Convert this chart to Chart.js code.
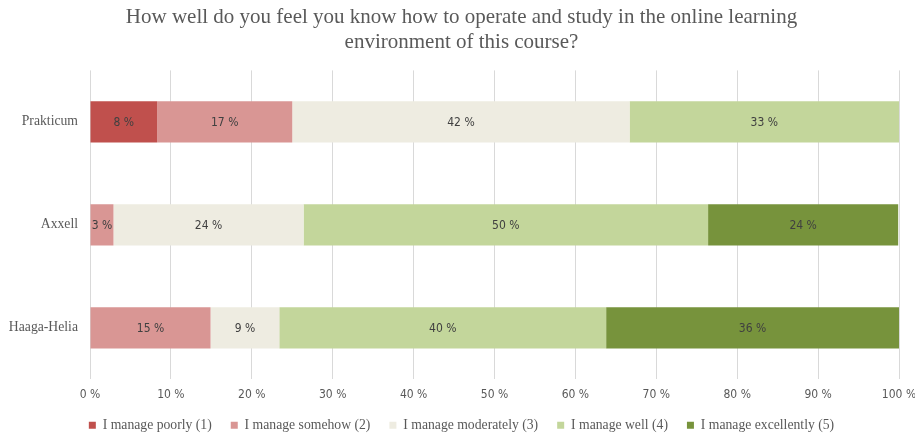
<!DOCTYPE html>
<html>
<head>
<meta charset="utf-8">
<script src="https://cdn.jsdelivr.net/npm/chart.js@4"></script>
<style>
  html, body { margin: 0; padding: 0; background: #fff; }
  #wrap { width: 915px; height: 434px; }
</style>
</head>
<body>
<div id="wrap"><canvas id="grafico"></canvas></div>
<script>
// categorias y valores (%)
const schools = ['Prakticum', 'Axxell', 'Haaga-Helia']
const poorly = [8.3, 0, 0]
const somehow = [16.7, 2.9, 14.9]
const moderately = [41.7, 23.5, 8.5]
const well = [33.3, 50.0, 40.4]
const excellently = [0, 23.5, 36.2]
const seriesNames = ['I manage poorly (1)', 'I manage somehow (2)', 'I manage moderately (3)', 'I manage well (4)', 'I manage excellently (5)']
const xTicks = [0, 10, 20, 30, 40, 50, 60, 70, 80, 90, 100]

const colores = ['#C0504D', '#D99694', '#EEECE1', '#C3D69B', '#77933C']
const sansFont = "'Liberation Sans Narrow', 'DejaVu Sans Condensed', 'Liberation Sans', sans-serif"
const serifFont = "'Liberation Serif', 'DejaVu Serif', serif"

// etiquetas dentro de las barras
const etiquetasPlugin = {
    id: 'etiquetas',
    afterDatasetsDraw(chart) {
        const ctx = chart.ctx
        ctx.save()
        ctx.font = `12px ${sansFont}`
        ctx.fillStyle = '#404040'
        ctx.textAlign = 'center'
        ctx.textBaseline = 'middle'
        chart.data.datasets.forEach((ds, i) => {
            const meta = chart.getDatasetMeta(i)
            meta.data.forEach((bar, j) => {
                const v = ds.data[j]
                if (!v) return
                const p = bar.getProps(['x', 'y', 'base'], true)
                ctx.fillText(Math.round(v) + ' %', (p.x + p.base) / 2, p.y + 1)
            })
        })
        ctx.restore()
    }
}

const valores = [poorly, somehow, moderately, well, excellently]
const data = {
    labels: schools,
    datasets: valores.map((v, i) => ({
        label: seriesNames[i],
        data: v,
        backgroundColor: colores[i],
        borderWidth: 0,
        categoryPercentage: 1,
        barPercentage: 0.4
    }))
}

const config = {
    type: 'bar',
    data: data,
    options: {
        indexAxis: 'y',
        responsive: true,
        maintainAspectRatio: false,
        animation: false,
        layout: { padding: { left: 8, right: 0, top: 0, bottom: -8 } },
        scales: {
            x: {
                stacked: true,
                min: 0,
                max: 100,
                afterBuildTicks: (scale) => { scale.ticks = xTicks.map(v => ({ value: v })) },
                ticks: {
                    callback: (v) => v + ' %',
                    color: '#595959',
                    font: { family: sansFont, size: 12 },
                    padding: 8
                },
                grid: { color: '#D9D9D9', lineWidth: 1, drawTicks: false },
                border: { display: false },
                afterFit: (scale) => {
                    scale.height = 20
                    scale.paddingRight = 16
                    scale.paddingLeft = 0
                }
            },
            y: {
                stacked: true,
                ticks: {
                    color: '#595959',
                    font: { family: serifFont, size: 13.7 },
                    padding: 12
                },
                grid: { display: false, drawTicks: false },
                border: { display: false },
                afterFit: (scale) => { scale.width = 82 }
            }
        },
        plugins: {
            title: {
                display: true,
                text: ['How well do you feel you know how to operate and study in the online learning', 'environment of this course?'],
                color: '#595959',
                font: { family: serifFont, size: 21, weight: 'normal', lineHeight: 1.2 },
                padding: { top: 5, bottom: 15 }
            },
            legend: {
                position: 'bottom',
                labels: {
                    color: '#595959',
                    font: { family: serifFont, size: 13.7 },
                    boxWidth: 7,
                    boxHeight: 7,
                    padding: 19
                }
            },
            tooltip: { enabled: false }
        }
    },
    plugins: [etiquetasPlugin]
}

const myChart = new Chart(document.querySelector('#grafico'), config)
</script>
</body>
</html>
